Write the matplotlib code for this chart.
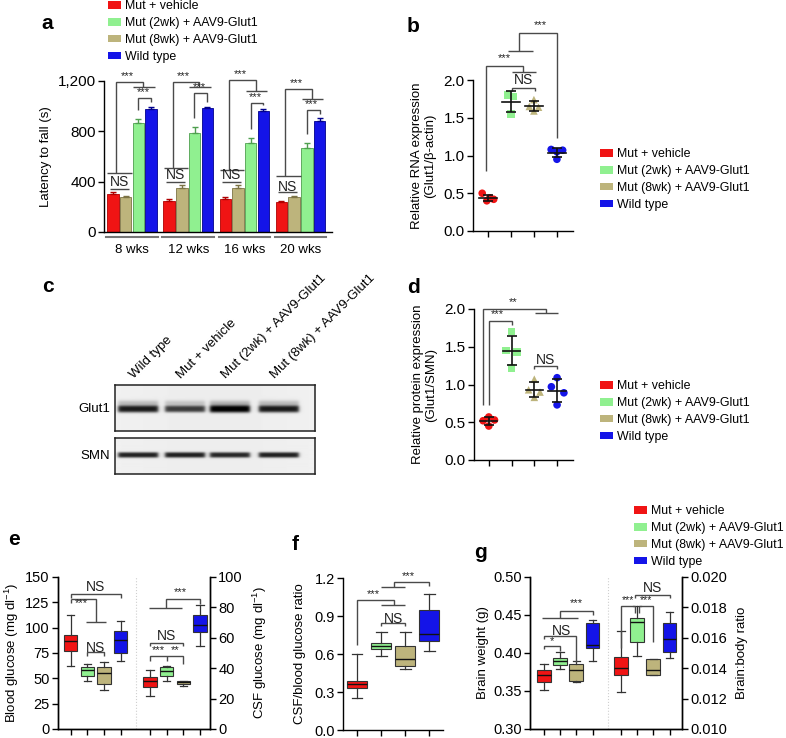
import numpy as np
import matplotlib
matplotlib.use('Agg')
import matplotlib.pyplot as plt
from matplotlib.patches import Patch

plt.rcParams['font.family'] = ['Liberation Sans', 'DejaVu Sans']
plt.rcParams['mathtext.fontset'] = 'custom'
plt.rcParams['mathtext.rm'] = 'Liberation Sans'
plt.rcParams['mathtext.it'] = 'Liberation Sans:italic'
plt.rcParams['axes.linewidth'] = 1.0

# ---------------- data ----------------
groups = ['Mut + vehicle', 'Mut (2wk) + AAV9-Glut1', 'Mut (8wk) + AAV9-Glut1', 'Wild type']
weeks = ['8 wks', '12 wks', '16 wks', '20 wks']

lat_vehicle = [300, 250, 260, 235]
lat_vehicle_err = [20, 15, 15, 15]
lat_2wk = [870, 790, 705, 665]
lat_2wk_err = [30, 45, 45, 45]
lat_8wk = [275, 350, 350, 280]
lat_8wk_err = [10, 25, 20, 10]
lat_wt = [980, 985, 960, 885]
lat_wt_err = [15, 10, 15, 20]

rna_vehicle = [0.50, 0.40, 0.42, 0.44]
rna_2wk = [1.80, 1.55, 1.78]
rna_8wk = [1.74, 1.65, 1.64, 1.59]
rna_wt = [1.08, 1.07, 1.05, 0.95]

prot_vehicle = [0.57, 0.52, 0.53, 0.45]
prot_2wk = [1.70, 1.45, 1.43, 1.22]
prot_8wk = [1.07, 0.93, 0.90, 0.83]
prot_wt = [1.09, 0.97, 0.89, 0.73]

blot_lanes = ['Wild type', 'Mut + vehicle', 'Mut (2wk) + AAV9-Glut1', 'Mut (8wk) + AAV9-Glut1']
glut1_band = [0.88, 0.74, 1.0, 0.88]
smn_band = [0.85, 0.85, 0.82, 0.85]

# five-number summaries: whisker low, q1, median, q3, whisker high
blood_glucose = [[62.5, 77.3, 86.5, 93.0, 112.8],
                 [47.4, 52.6, 58.0, 61.0, 64.5],
                 [38.2, 44.7, 55.3, 60.9, 65.8],
                 [67.0, 75.0, 88.0, 96.7, 107.0]]
csf_glucose = [[21.5, 27.4, 31.8, 34.2, 38.6],
               [31.4, 35.0, 38.0, 40.8, 41.4],
               [28.5, 29.6, 30.7, 31.4, 31.8],
               [54.8, 63.8, 68.6, 74.8, 81.8]]
csf_ratio = [[0.25, 0.33, 0.36, 0.39, 0.60],
             [0.585, 0.64, 0.667, 0.69, 0.77],
             [0.483, 0.506, 0.56, 0.667, 0.77],
             [0.625, 0.70, 0.754, 0.944, 1.076]]
brain_weight = [[0.351, 0.3614, 0.3715, 0.378, 0.386],
                [0.379, 0.3846, 0.390, 0.3934, 0.401],
                [0.362, 0.3636, 0.378, 0.386, 0.389],
                [0.390, 0.4066, 0.410, 0.4395, 0.443]]
brain_body = [[0.01241, 0.01357, 0.01401, 0.01474, 0.01643],
              [0.01478, 0.0157, 0.01702, 0.01728, 0.01807],
              [0.01357, 0.01357, 0.01386, 0.0146, 0.0146],
              [0.01467, 0.01509, 0.01594, 0.01697, 0.01768]]

# ---------------- style ----------------
COL = ['#f01414', '#90f090', '#bdb47c', '#1414e8']
EDGE = ['#b00000', '#4f9f4f', '#7d7445', '#00008c']
MARK = ['o', 's', '^', 'o']
BR = '#4a4a4a'
TICK_FS = 11
LAB_FS = 9.5
LEG_FS = 8.9

W, H = 786, 738
fig = plt.figure(figsize=(W / 100, H / 100), dpi=100)


def rect(x0, x1, ytop, ybot):
    return [x0 / W, 1 - ybot / H, (x1 - x0) / W, (ybot - ytop) / H]


def seg(ax, xs, ys, lw=1.0):
    ax.plot(xs, ys, color=BR, lw=lw, clip_on=False, solid_capstyle='butt', solid_joinstyle='miter')


def txt(ax, x, y, s, fs=8, va='center'):
    ax.text(x, y, s, ha='center', va=va, fontsize=fs, color='#222', clip_on=False)


def legend_at(x, ytop):
    handles = [Patch(facecolor=c, edgecolor='none') for c in COL]
    fig.legend(handles, groups, loc='upper left', bbox_to_anchor=(x / W, 1 - ytop / H),
               frameon=False, fontsize=LEG_FS, handlelength=1.05, handleheight=0.6,
               handletextpad=0.3, labelspacing=0.4, borderpad=0, borderaxespad=0)


def panel_letter(x, y, s):
    fig.text(x / W, 1 - y / H, s, fontsize=15, fontweight='bold', ha='left', va='baseline')


def style_axes(ax, right=False):
    ax.spines['top'].set_visible(False)
    if not right:
        ax.spines['right'].set_visible(False)
    ax.tick_params(direction='out', length=4, width=1.0, pad=2)


# ---------------- panel a ----------------
axa = fig.add_axes(rect(104, 332, 81, 232))
style_axes(axa)
xg = np.arange(len(weeks))
bar_sets = [(lat_vehicle, lat_vehicle_err, 0), (lat_8wk, lat_8wk_err, 2),
            (lat_2wk, lat_2wk_err, 1), (lat_wt, lat_wt_err, 3)]
offs = [-0.34, -0.113, 0.113, 0.34]
for k, (vals, errs, ci) in enumerate(bar_sets):
    x = xg + offs[k]
    axa.bar(x, vals, width=0.205, color=COL[ci], edgecolor=EDGE[ci], linewidth=0.6, zorder=2)
    axa.errorbar(x, vals, yerr=[np.zeros(len(vals)), errs], fmt='none', ecolor=EDGE[ci],
                 elinewidth=1.0, capsize=2.2, capthick=1.0, zorder=3)
axa.set_xlim(-0.5, 3.56)
axa.set_ylim(0, 1200)
axa.set_yticks([0, 400, 800, 1200])
axa.set_yticklabels(['0', '400', '800', '1,200'], fontsize=TICK_FS)
axa.set_xticks(xg)
axa.set_xticklabels(weeks, fontsize=LAB_FS)
axa.tick_params(axis='x', length=0, pad=9)
axa.set_ylabel('Latency to fall (s)', fontsize=LAB_FS, labelpad=4)
tr = axa.get_xaxis_transform()
for g in xg:
    axa.plot([g - 0.46, g + 0.46], [-0.035, -0.035], color='#777', lw=1.5, transform=tr, clip_on=False)

grp_line = [469, 506, 493, 445]
ns_text = [400, 453, 453, 360]
ns_line = [342, 400, 400, 316]
top_y = [1192, 1192, 1208, 1137]
top_drop = [1153, 1153, 1120, 1057]
low_y = [1068, 1105, 1025, 970]
for g in xg:
    seg(axa, [g - 0.44, g + 0.0], [grp_line[g]] * 2)
    seg(axa, [g - 0.4, g - 0.06], [ns_line[g]] * 2)
    txt(axa, g - 0.23, ns_text[g], 'NS', fs=10)
    seg(axa, [g - 0.28, g - 0.28, g + 0.2, g + 0.2], [grp_line[g], top_y[g], top_y[g], top_drop[g]])
    seg(axa, [g + 0.02, g + 0.4], [top_drop[g]] * 2)
    txt(axa, g - 0.08, top_y[g] + 8, '***', fs=8, va='bottom')
    gtop = lat_2wk[g] + lat_2wk_err[g] + 70
    btop = lat_wt[g] + lat_wt_err[g] + 35
    seg(axa, [g + 0.11, g + 0.11, g + 0.34, g + 0.34], [gtop, low_y[g], low_y[g], btop])
    txt(axa, g + 0.2, low_y[g] + 8, '***', fs=8, va='bottom')

legend_at(108, 0)
panel_letter(41, 29, 'a')


# ---------------- scatter panels b, d ----------------
def scatter_panel(ax, sets, offsets):
    style_axes(ax)
    for i, (vals, off) in enumerate(zip(sets, offsets)):
        x = i + 1
        ax.scatter(np.array(off[:len(vals)]) + x, vals, s=30, marker=MARK[i], color=COL[i],
                   edgecolor='none', zorder=2, clip_on=False)
        m = np.mean(vals)
        sd = np.std(vals, ddof=1)
        ax.plot([x - 0.38, x + 0.38], [m, m], color='#111', lw=1.2, zorder=3)
        ax.errorbar([x], [m], yerr=[sd], fmt='none', ecolor='#111', elinewidth=1.2,
                    capsize=3.5, capthick=1.2, zorder=3)
    ax.set_xlim(0.35, 4.7)
    ax.set_ylim(0, 2.0)
    ax.set_yticks([0, 0.5, 1.0, 1.5, 2.0])
    ax.set_yticklabels(['0.0', '0.5', '1.0', '1.5', '2.0'], fontsize=TICK_FS)
    ax.set_xticks([1, 2, 3, 4])
    ax.set_xticklabels([])


axb = fig.add_axes(rect(473, 573, 80, 231))
scatter_panel(axb, [rna_vehicle, rna_2wk, rna_8wk, rna_wt],
              [[-0.25, -0.05, 0.25, 0.08], [-0.15, 0.0, 0.12], [0.0, -0.2, 0.2, 0.0], [-0.25, 0.25, 0.0, 0.0]])
axb.set_ylabel('Relative RNA expression\n(Glut1/\u03b2-actin)', fontsize=LAB_FS, labelpad=5)
seg(axb, [0.91, 0.91, 2.52, 2.52], [0.79, 2.19, 2.19, 2.10])
seg(axb, [2.04, 3.09], [2.10, 2.10])
txt(axb, 1.7, 2.23, '***', va='bottom')
seg(axb, [2.05, 2.05, 3.05, 3.05], [1.86, 1.90, 1.90, 1.86])
txt(axb, 2.55, 2.0, 'NS', fs=10)
seg(axb, [1.87, 2.96], [2.38, 2.38])
seg(axb, [2.35, 2.35, 4.0, 4.0], [2.38, 2.62, 2.62, 1.23])
txt(axb, 3.26, 2.66, '***', va='bottom')
legend_at(600, 148)
panel_letter(407, 32, 'b')

axd = fig.add_axes(rect(474, 573, 309, 460))
scatter_panel(axd, [prot_vehicle, prot_2wk, prot_8wk, prot_wt],
              [[0.0, -0.25, 0.25, 0.0], [0.0, -0.25, 0.25, 0.0], [0.0, -0.25, 0.25, 0.0], [0.0, -0.25, 0.3, 0.0]])
axd.set_ylabel('Relative protein expression\n(Glut1/SMN)', fontsize=LAB_FS, labelpad=5)
seg(axd, [0.74, 0.74, 3.52, 3.52], [0.73, 2.0, 2.0, 1.95])
seg(axd, [3.04, 4.04], [1.95, 1.95])
txt(axd, 2.09, 2.03, '**', va='bottom')
seg(axd, [1.0, 1.0, 2.04, 2.04], [0.73, 1.84, 1.84, 1.79])
txt(axd, 1.39, 1.86, '***', va='bottom')
seg(axd, [3.0, 3.0, 4.0, 4.0], [1.21, 1.24, 1.24, 1.21])
txt(axd, 3.5, 1.33, 'NS', fs=10)
legend_at(600, 380)
panel_letter(407, 293, 'd')

# ---------------- panel c (blot) ----------------
lane_c = np.array([0.115, 0.35, 0.575, 0.82])


def blot(ax, intens, yc, sig, halo):
    xs = np.linspace(0, 1, 400)
    ys = np.linspace(0, 1, 92)
    X, Y = np.meshgrid(xs, ys)
    img = np.full(X.shape, 0.955) - 0.025 * np.exp(-((X - 0.5) / 0.6) ** 2)
    for c, a in zip(lane_c, intens):
        hx = 1 / (1 + np.exp(-(0.1 - np.abs(X - c)) / 0.005))
        s = sig * (0.75 + 0.35 * a)
        img -= 0.95 * a * hx * np.exp(-(np.abs(Y - yc) / s) ** 3)
        img -= halo * a * hx * np.exp(-((Y - yc + 0.13) / 0.06) ** 2)
    ax.imshow(np.clip(img, 0, 1), cmap='gray', vmin=0, vmax=1, aspect='auto', extent=[0, 1, 1, 0])
    ax.set_xticks([])
    ax.set_yticks([])
    for sp in ax.spines.values():
        sp.set_linewidth(1.1)
        sp.set_color('#222')


axc1 = fig.add_axes(rect(115, 315, 385, 431))
blot(axc1, glut1_band, 0.52, 0.075, 0.22)
axc2 = fig.add_axes(rect(115, 315, 438, 474))
blot(axc2, smn_band, 0.47, 0.075, 0.0)
fig.text(110 / W, 1 - 409 / H, 'Glut1', ha='right', va='center', fontsize=LAB_FS)
fig.text(110 / W, 1 - 456 / H, 'SMN', ha='right', va='center', fontsize=LAB_FS)
for c, lab in zip(lane_c, blot_lanes):
    fig.text((115 + 200 * c - 2) / W, 1 - 381 / H, lab, rotation=45, ha='left', va='bottom',
             rotation_mode='anchor', fontsize=LAB_FS)
panel_letter(42, 292, 'c')


# ---------------- box panels ----------------
def boxes(ax, data, pos, width):
    stats = [dict(whislo=d[0], q1=d[1], med=d[2], q3=d[3], whishi=d[4], fliers=[]) for d in data]
    bp = ax.bxp(stats, positions=pos, widths=width, patch_artist=True, showfliers=False,
                manage_ticks=False, capwidths=width * 0.55,
                boxprops=dict(linewidth=0.8, edgecolor='#333'),
                medianprops=dict(color='#111', linewidth=1.0),
                whiskerprops=dict(color='#333', linewidth=0.9),
                capprops=dict(color='#333', linewidth=0.9))
    for patch, c in zip(bp['boxes'], COL):
        patch.set_facecolor(c)


POS_L = [1, 2, 3, 4]
POS_R = [5.75, 6.75, 7.75, 8.75]
BOX_FS = 10.5

# panel e
axe = fig.add_axes(rect(58, 210, 577, 729))
axe2 = axe.twinx()
for ax in (axe, axe2):
    style_axes(ax, right=True)
axe.set_xlim(0.24, 9.34)
axe.set_ylim(0, 150)
axe2.set_ylim(0, 100)
axe.axvline(4.9, color='#cfcfcf', lw=0.8, ls=':')
boxes(axe, blood_glucose, POS_L, 0.8)
boxes(axe2, csf_glucose, POS_R, 0.8)
axe.set_yticks([0, 25, 50, 75, 100, 125, 150])
axe.set_yticklabels(['0', '25', '50', '75', '100', '125', '150'], fontsize=BOX_FS)
axe2.set_yticks([0, 20, 40, 60, 80, 100])
axe2.set_yticklabels(['0', '20', '40', '60', '80', '100'], fontsize=BOX_FS)
axe.set_xticks(POS_L + POS_R)
axe.set_xticklabels([])
axe.set_ylabel('Blood glucose (mg dl$^{-1}$)', fontsize=LAB_FS, labelpad=3)
axe2.set_ylabel('CSF glucose (mg dl$^{-1}$)', fontsize=LAB_FS, labelpad=6)
seg(axe, [1, 1, 4, 4], [129.3, 133.6, 133.6, 129.3])
txt(axe, 2.5, 140.5, 'NS', fs=10)
seg(axe, [1, 1], [124, 128.3])
seg(axe, [1, 2.5, 2.5], [128.3, 128.3, 105.6])
seg(axe, [1.9, 3.1], [105.6, 105.6])
txt(axe, 1.65, 124.0, '***')
seg(axe, [2, 2, 3, 3], [72.4, 75.7, 75.7, 72.4])
txt(axe, 2.5, 79.5, 'NS', fs=10)
seg(axe2, [5.69, 7.68], [79.6, 79.6])
seg(axe2, [6.69, 6.69, 8.75, 8.75], [79.6, 85.5, 85.5, 82.5])
txt(axe2, 7.54, 86.5, '***', va='bottom')
seg(axe2, [5.75, 5.75, 7.75, 7.75], [54.4, 56.6, 56.6, 54.4])
txt(axe2, 6.75, 61, 'NS', fs=10)
seg(axe2, [5.75, 5.75, 6.75, 7.75, 7.75], [44.5, 47.8, 47.8, 47.8, 43.0])
seg(axe2, [6.75, 6.75], [47.8, 45.0])
txt(axe2, 6.25, 48.6, '***', va='bottom')
txt(axe2, 7.25, 48.6, '**', va='bottom')
panel_letter(8, 545, 'e')

# panel f
axf = fig.add_axes(rect(343, 443, 578, 730))
style_axes(axf)
axf.set_xlim(0.42, 4.57)
axf.set_ylim(0, 1.2)
boxes(axf, csf_ratio, [1, 2, 3, 4], 0.82)
axf.set_yticks([0, 0.3, 0.6, 0.9, 1.2])
axf.set_yticklabels(['0.0', '0.3', '0.6', '0.9', '1.2'], fontsize=BOX_FS)
axf.set_xticks([1, 2, 3, 4])
axf.set_xticklabels([])
axf.set_ylabel('CSF/blood glucose ratio', fontsize=LAB_FS, labelpad=6)
seg(axf, [1, 1, 2.54, 2.54], [0.673, 1.023, 1.023, 0.989])
seg(axf, [2, 3], [0.989, 0.989])
txt(axf, 1.67, 1.035, '***', va='bottom')
seg(axf, [2, 3], [1.131, 1.131])
seg(axf, [2.54, 2.54, 4, 4], [1.131, 1.166, 1.166, 1.14])
txt(axf, 3.13, 1.175, '***', va='bottom')
seg(axf, [2, 2, 3, 3], [0.818, 0.844, 0.844, 0.818])
txt(axf, 2.5, 0.88, 'NS', fs=10)
panel_letter(292, 550, 'f')

# panel g
axg = fig.add_axes(rect(530, 682, 577, 729))
axg2 = axg.twinx()
for ax in (axg, axg2):
    style_axes(ax, right=True)
axg.set_xlim(0.14, 9.52)
axg.set_ylim(0.30, 0.50)
axg2.set_ylim(0.010, 0.020)
axg.axvline(4.93, color='#cfcfcf', lw=0.8, ls=':')
boxes(axg, brain_weight, POS_L, 0.85)
boxes(axg2, brain_body, POS_R, 0.85)
axg.set_yticks([0.30, 0.35, 0.40, 0.45, 0.50])
axg.set_yticklabels(['0.30', '0.35', '0.40', '0.45', '0.50'], fontsize=BOX_FS)
axg2.set_yticks([0.010, 0.012, 0.014, 0.016, 0.018, 0.020])
axg2.set_yticklabels(['0.010', '0.012', '0.014', '0.016', '0.018', '0.020'], fontsize=BOX_FS)
axg.set_xticks(POS_L + POS_R)
axg.set_xticklabels([])
axg.set_ylabel('Brain weight (g)', fontsize=LAB_FS, labelpad=3)
axg2.set_ylabel('Brain:body ratio', fontsize=LAB_FS, labelpad=6)
seg(axg, [0.9, 3.1], [0.446, 0.446])
seg(axg, [2, 2, 4, 4], [0.446, 0.4548, 0.4548, 0.4504])
txt(axg, 3.0, 0.459, '***', va='bottom')
seg(axg, [1, 1, 3, 3], [0.418, 0.422, 0.422, 0.388])
txt(axg, 2.1, 0.4292, 'NS', fs=10)
seg(axg, [1, 1, 2, 2], [0.405, 0.4088, 0.4088, 0.403])
txt(axg, 1.5, 0.4092, '*', va='bottom')
seg(axg2, [5.75, 5.75, 6.65], [0.01533, 0.01807, 0.01807])
seg(axg2, [6.65, 6.65], [0.01807, 0.0176])
seg(axg2, [6.85, 6.85], [0.0176, 0.01807])
seg(axg2, [6.85, 7.75, 7.75], [0.01807, 0.01807, 0.0157])
txt(axg2, 6.2, 0.01813, '***', fs=7.5, va='bottom')
txt(axg2, 7.3, 0.01813, '***', fs=7.5, va='bottom')
seg(axg2, [6.65, 6.65, 8.75, 8.75], [0.01862, 0.0188, 0.0188, 0.01862])
txt(axg2, 7.7, 0.0193, 'NS', fs=10)
legend_at(634, 505)
panel_letter(474, 558, 'g')

fig.savefig('out.png', dpi=100)
